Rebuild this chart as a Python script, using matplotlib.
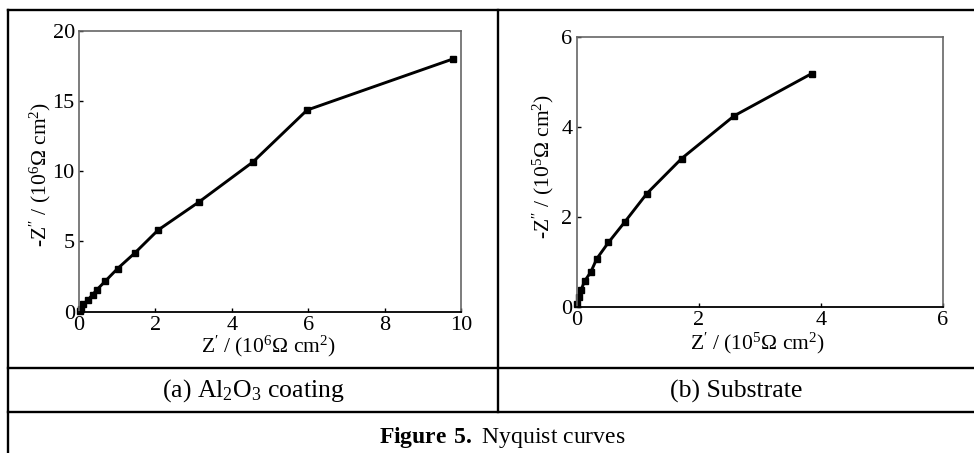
import matplotlib
matplotlib.use("Agg")
import matplotlib.pyplot as plt
from matplotlib.lines import Line2D

plt.rcParams['font.family'] = ['Liberation Serif', 'DejaVu Serif']
plt.rcParams['mathtext.fontset'] = 'custom'
plt.rcParams['mathtext.rm'] = 'Liberation Serif'
plt.rcParams['mathtext.bf'] = 'Liberation Serif:bold'
plt.rcParams['mathtext.default'] = 'regular'

# (a) Al2O3 coating, units 1e6 ohm cm^2
zre_a = [0.02, 0.05, 0.11, 0.23, 0.36, 0.47, 0.69, 1.01, 1.47, 2.07, 3.14, 4.55, 5.97, 9.78]
zim_a = [0.08, 0.17, 0.52, 0.83, 1.22, 1.57, 2.18, 3.07, 4.20, 5.81, 7.81, 10.65, 14.35, 17.98]

# (b) substrate, units 1e5 ohm cm^2
zre_b = [0.0, 0.04, 0.07, 0.13, 0.23, 0.33, 0.52, 0.79, 1.15, 1.72, 2.58, 3.85]
zim_b = [0.06, 0.21, 0.37, 0.57, 0.77, 1.07, 1.43, 1.89, 2.52, 3.30, 4.25, 5.19]

xticks_a = [0, 2, 4, 6, 8, 10]
yticks_a = [0, 5, 10, 15, 20]
ticks_b = [0, 2, 4, 6]

W, H = 974, 453
fig = plt.figure(figsize=(W / 100, H / 100), dpi=100)


def px(x0, y0, x1, y1):
    # pixel box (top-left origin) -> figure fraction rect
    return [x0 / W, 1 - y1 / H, (x1 - x0) / W, (y1 - y0) / H]


def style(ax):
    for side in ['top', 'right', 'left']:
        ax.spines[side].set_color('#666666')
        ax.spines[side].set_linewidth(1.2)
    ax.spines['bottom'].set_color('black')
    ax.spines['bottom'].set_linewidth(1.3)
    ax.tick_params(direction='in', length=3, width=1, labelsize=16,
                   top=False, right=False, pad=3)


ax1 = fig.add_axes(px(79, 30.7, 461, 311.7))
ax1.plot(zre_a, zim_a, color='black', lw=2.1, marker='s', ms=4.8, clip_on=False)
ax1.set_xlim(0, 10)
ax1.set_ylim(0, 20)
ax1.set_xticks(xticks_a)
ax1.set_yticks(yticks_a)
style(ax1)
ax1.set_xlabel(r"Z$^{\prime}$ / (10$^{6}$Ω cm$^{2}$)", fontsize=15.5, va='top')
ax1.xaxis.set_label_coords(0.495, -0.08)
ax1.set_ylabel(r"-Z$^{\prime\prime}$ / (10$^{6}$Ω cm$^{2}$)", fontsize=15.5, va='center')
ax1.yaxis.set_label_coords(-0.1, 0.49)

ax2 = fig.add_axes(px(576.7, 37.3, 942.7, 306.7))
ax2.plot(zre_b, zim_b, color='black', lw=2.1, marker='s', ms=4.8, clip_on=False)
ax2.set_xlim(0, 6)
ax2.set_ylim(0, 6)
ax2.set_xticks(ticks_b)
ax2.set_yticks(ticks_b)
style(ax2)
ax2.set_xlabel(r"Z$^{\prime}$ / (10$^{5}$Ω cm$^{2}$)", fontsize=15.5, va='top')
ax2.xaxis.set_label_coords(0.495, -0.088)
ax2.set_ylabel(r"-Z$^{\prime\prime}$ / (10$^{5}$Ω cm$^{2}$)", fontsize=15.5, va='center')
ax2.yaxis.set_label_coords(-0.09, 0.52)

# table frame
lines = [
    ((7.5, 974), (10, 10)),
    ((7.5, 7.5), (10, 453)),
    ((498, 498), (10, 412)),
    ((7.5, 974), (368, 368)),
    ((7.5, 974), (412, 412)),
]
for xs, ys in lines:
    fig.add_artist(Line2D([x / W for x in xs], [1 - y / H for y in ys],
                          color='black', lw=1.7, transform=fig.transFigure))

fig.text(253 / W, 1 - 391 / H, "(a) Al$_2$O$_3$ coating", ha='center', va='center', fontsize=18.5)
fig.text(736 / W, 1 - 391 / H, "(b) Substrate", ha='center', va='center', fontsize=18.5)
fig.text(502 / W, 1 - 437 / H, r"$\mathbf{Figure\ 5.}$ Nyquist curves", ha='center', va='center', fontsize=17)

fig.savefig("out.png", dpi=100)
